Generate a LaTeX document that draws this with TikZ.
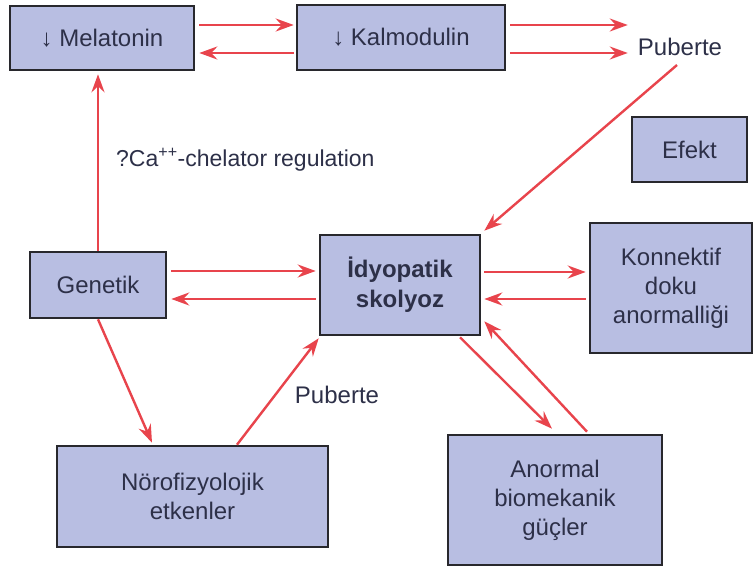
\documentclass[tikz,border=0pt]{standalone}
\usepackage{fontspec}
\setmainfont{Liberation Sans}
\usetikzlibrary{arrows.meta,calc}
\definecolor{boxfill}{RGB}{184,190,226}
\definecolor{boxline}{RGB}{40,40,45}
\definecolor{arrred}{RGB}{232,68,76}
\definecolor{txt}{RGB}{45,48,72}
\begin{document}
\begin{tikzpicture}[x=1pt,y=-1pt,
  box/.style={draw=boxline,fill=boxfill,line width=2.6pt,text=txt,align=center,inner sep=0pt,font=\fontsize{24}{29}\selectfont},
  lbl/.style={text=txt,inner sep=2pt,font=\fontsize{24}{29}\selectfont},
  arr/.style={draw=arrred,line width=2.4pt,-{Stealth[length=18pt,width=13pt,inset=6pt]}}]
\useasboundingbox[fill=white] (0,0) rectangle (756,572);
% nodes
\node[box,minimum width=184pt,minimum height=64pt] (mel) at (102,38) {↓ Melatonin};
\node[box,minimum width=208pt,minimum height=65pt] (kal) at (401,37.5) {↓ Kalmodulin};
\node[lbl] (pub1) at (680,47) {Puberte};
\node[box,minimum width=115pt,minimum height=65pt] (efe) at (689.5,149.5) {Efekt};
\node[lbl,anchor=west,font=\fontsize{23}{28}\selectfont] (chel) at (114,160) {?Ca\textsuperscript{++}-chelator regulation};
\node[box,minimum width=136pt,minimum height=66pt] (gen) at (98,285) {Genetik};
\node[box,minimum width=160pt,minimum height=100pt,font=\fontsize{24}{30}\selectfont\bfseries] (idy) at (400,285) {İdyopatik\\skolyoz};
\node[box,minimum width=162pt,minimum height=130pt] (kon) at (671,288) {Konnektif\\doku\\anormalliği};
\node[lbl] (pub2) at (337,395) {Puberte};
\node[box,minimum width=271pt,minimum height=101pt] (nor) at (192.5,496.5) {Nörofizyolojik\\etkenler};
\node[box,minimum width=214pt,minimum height=130pt] (ano) at (555,500) {Anormal\\biomekanik\\güçler};
% connectors
\draw[arr] ($(mel.east)+(4,-13)$) -- ($(kal.west)+(-2,-12.5)$);
\draw[arr] ($(kal.west)+(-2,15.5)$) -- ($(mel.east)+(4,15)$);
\draw[arr] ($(kal.east)+(4,-12.5)$) -- ($(pub1.west)+(-8,-22)$);
\draw[arr] ($(kal.east)+(4,15.5)$) -- ($(pub1.west)+(-8,6)$);
\draw[arr] ($(pub1.south)+(-3,7)$) -- ($(idy.north east)+(3,-3)$);
\draw[arr] (gen.north) -- ($(gen.north |- mel.south)+(0,3)$);
\draw[arr] ($(gen.east)+(4,-14)$) -- ($(idy.west)+(-3,-14)$);
\draw[arr] ($(idy.west)+(-3,14)$) -- ($(gen.east)+(4,14)$);
\draw[arr] ($(idy.east)+(3,-13)$) -- ($(kon.west)+(-3,-16)$);
\draw[arr] ($(kon.west)+(-3,11)$) -- ($(idy.east)+(3,14)$);
\draw[arr] (gen.south) -- ($(nor.north)+(-40.5,-2)$);
\draw[arr] ($(nor.north)+(44.5,0)$) -- ($(idy.south west)+(0,2)$);
\draw[arr] ($(idy.south)+(60,1)$) -- ($(ano.north)+(-3,-5)$);
\draw[arr] ($(ano.north)+(32,-2)$) -- ($(idy.south east)+(3,-15)$);
\end{tikzpicture}
\end{document}
